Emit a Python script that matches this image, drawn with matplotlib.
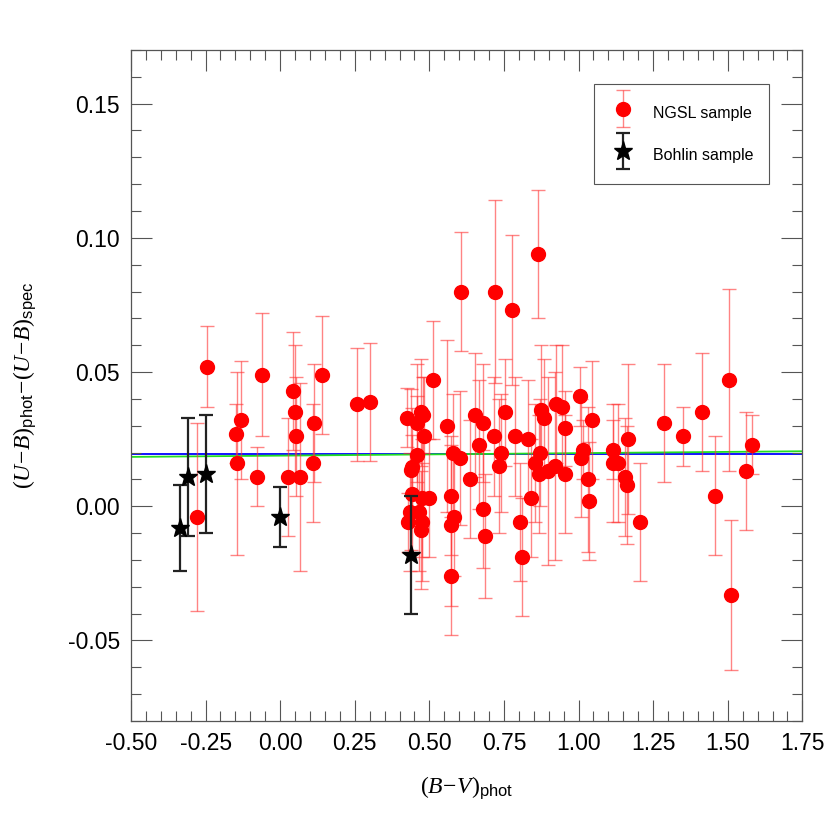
import matplotlib
matplotlib.use("Agg")
import matplotlib.pyplot as plt
from matplotlib.ticker import MultipleLocator
from matplotlib.legend_handler import HandlerErrorbar
from matplotlib.container import ErrorbarContainer
import numpy as np

plt.rcParams['font.family'] = ['Liberation Sans', 'DejaVu Sans']
plt.rcParams['mathtext.fontset'] = 'custom'
plt.rcParams['mathtext.rm'] = 'Liberation Serif'
plt.rcParams['mathtext.it'] = 'Liberation Serif:italic'
plt.rcParams['mathtext.sf'] = 'Liberation Sans'

# NGSL sample: (B-V)phot, delta(U-B), error
ngsl_bv = [-0.245, -0.280, -0.148, -0.144, -0.132, -0.078, -0.061, 0.044, 0.049, 0.052,
           0.026, 0.068, 0.110, 0.114, 0.140, 0.259, 0.300,
           0.511, 0.425, 0.471, 0.459, 0.479, 0.481, 0.458, 0.443, 0.439, 0.443,
           0.474, 0.498, 0.435, 0.465, 0.427, 0.474, 0.472,
           0.560, 0.578, 0.601, 0.571, 0.584, 0.571, 0.572, 0.605,
           0.636, 0.652, 0.680, 0.666, 0.679, 0.686,
           0.720, 0.776, 0.865, 0.718, 0.755, 0.741, 0.733, 0.787, 0.829, 0.803, 0.811,
           0.841, 0.875, 0.883, 0.870, 0.854, 0.867, 0.898, 0.920, 0.926, 0.945, 0.954, 0.954,
           1.004, 1.015, 1.009, 1.046, 1.032, 1.034, 1.114, 1.116, 1.133, 1.164, 1.155, 1.163,
           1.206, 1.287, 1.350, 1.413, 1.458, 1.504, 1.510, 1.561, 1.581]
ngsl_dub = [0.052, -0.004, 0.027, 0.016, 0.032, 0.011, 0.049, 0.043, 0.035, 0.026,
            0.011, 0.011, 0.016, 0.031, 0.049, 0.038, 0.039,
            0.047, 0.033, 0.035, 0.031, 0.034, 0.026, 0.019, 0.0145, 0.0137, 0.0044,
            0.003, 0.003, -0.002, -0.002, -0.006, -0.006, -0.009,
            0.030, 0.020, 0.018, 0.004, -0.004, -0.007, -0.026, 0.080,
            0.010, 0.034, 0.031, 0.023, -0.001, -0.011,
            0.080, 0.073, 0.094, 0.026, 0.035, 0.020, 0.015, 0.026, 0.025, -0.006, -0.019,
            0.003, 0.036, 0.033, 0.020, 0.016, 0.012, 0.013, 0.015, 0.038, 0.037, 0.029, 0.012,
            0.041, 0.021, 0.018, 0.032, 0.010, 0.002, 0.021, 0.016, 0.016, 0.025, 0.011, 0.008,
            -0.006, 0.031, 0.026, 0.035, 0.004, 0.047, -0.033, 0.013, 0.023]
ngsl_err = [0.015, 0.035, 0.011, 0.034, 0.022, 0.011, 0.023, 0.022, 0.025, 0.022,
            0.022, 0.035, 0.022, 0.022, 0.022, 0.021, 0.022,
            0.022, 0.011, 0.020, 0.022, 0.014, 0.022, 0.022, 0.022, 0.030, 0.022,
            0.022, 0.022, 0.022, 0.022, 0.011, 0.022, 0.022,
            0.032, 0.022, 0.025, 0.022, 0.022, 0.030, 0.022, 0.022,
            0.022, 0.023, 0.022, 0.024, 0.022, 0.023,
            0.034, 0.028, 0.024, 0.022, 0.020, 0.022, 0.025, 0.022, 0.022, 0.022, 0.022,
            0.022, 0.024, 0.022, 0.020, 0.022, 0.022, 0.035, 0.035, 0.022, 0.023, 0.014, 0.022,
            0.011, 0.011, 0.022, 0.022, 0.027, 0.022, 0.011, 0.022, 0.022, 0.028, 0.022, 0.022,
            0.022, 0.022, 0.011, 0.022, 0.022, 0.034, 0.028, 0.022, 0.011]

# Bohlin sample
bohlin_bv = [-0.336, -0.309, -0.247, 0.001, 0.440]
bohlin_dub = [-0.008, 0.011, 0.012, -0.004, -0.018]
bohlin_err = [0.016, 0.022, 0.022, 0.011, 0.022]

# fit lines (endpoints at x = -0.5 and 1.75)
fit_x = [-0.5, 1.75]
fit_blue = [0.0196, 0.0196]
fit_green = [0.0184, 0.0205]

fig = plt.figure(figsize=(8.3, 8.3), dpi=100)
ax = fig.add_axes([0.1578, 0.1313, 0.8089, 0.8085])

ax.plot(fit_x, fit_blue, color='blue', lw=1.3, zorder=1)
ax.plot(fit_x, fit_green, color='#22dd22', lw=1.3, zorder=1)

eb1 = ax.errorbar(ngsl_bv, ngsl_dub, yerr=ngsl_err, fmt='o', color='red', ms=10,
                  ecolor=(1, 0.2, 0.2, 0.6), elinewidth=1.0, capsize=4.8, capthick=1.0,
                  zorder=3, label='NGSL sample')
eb2 = ax.errorbar(bohlin_bv, bohlin_dub, yerr=bohlin_err, fmt='*', color='black', ms=14,
                  ecolor='#222222', elinewidth=1.6, capsize=4.8, capthick=1.6,
                  zorder=4, label='Bohlin sample')

ax.set_xlim(-0.5, 1.75)
ax.set_ylim(-0.08, 0.17)
ax.xaxis.set_major_locator(MultipleLocator(0.25))
ax.xaxis.set_minor_locator(MultipleLocator(0.05))
ax.yaxis.set_major_locator(MultipleLocator(0.05))
ax.yaxis.set_minor_locator(MultipleLocator(0.01))
ax.xaxis.set_major_formatter(plt.FormatStrFormatter('%.2f'))
ax.yaxis.set_major_formatter(plt.FormatStrFormatter('%.2f'))

for s in ax.spines.values():
    s.set_color('#555555')
    s.set_linewidth(0.9)
ax.tick_params(which='both', direction='in', top=True, right=True, color='#555555', width=0.8)
ax.tick_params(which='major', length=15, pad=8, labelsize=16.5)
ax.tick_params(which='minor', length=7)

ax.set_xlabel(r'$(B\!-\!V)_{\mathsf{phot}}$', fontsize=17, labelpad=14)
ax.set_ylabel(r'$(U\!-\!B)_{\mathsf{phot}}\!-\!(U\!-\!B)_{\mathsf{spec}}$', fontsize=17, labelpad=21)

leg = ax.legend(loc='upper right', bbox_to_anchor=(0.950, 0.949), borderaxespad=0,
                fontsize=11.5, fancybox=False, edgecolor='#555555', framealpha=1,
                labelspacing=1.0, borderpad=0.95, handlelength=1.75, handleheight=2.2,
                handletextpad=1.0,
                handler_map={ErrorbarContainer: HandlerErrorbar(yerr_size=1.13)})
leg.get_frame().set_linewidth(0.8)

fig.savefig('out.png', dpi=100)
